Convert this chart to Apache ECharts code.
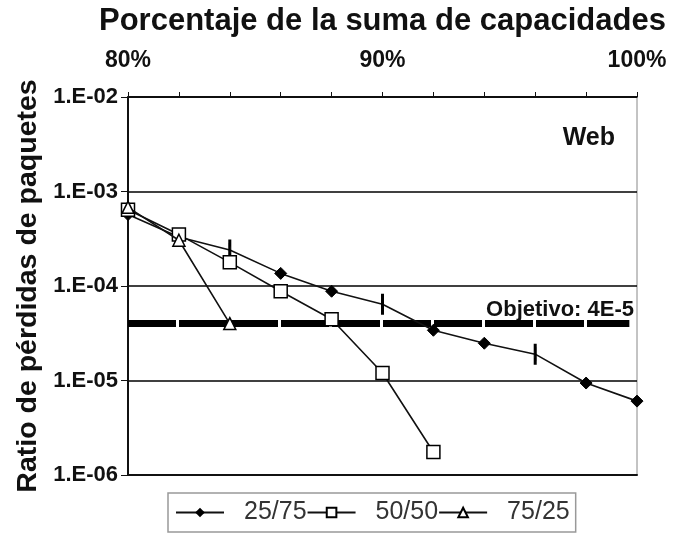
<!DOCTYPE html>
<html>
<head>
<meta charset="utf-8">
<script src="https://cdn.jsdelivr.net/npm/echarts@6/dist/echarts.min.js"></script>
<style>
  html, body { margin: 0; padding: 0; background: #fff; }
  #chart { width: 676px; height: 534px; }
</style>
</head>
<body>
<div id="chart"></div>
<script>
// Porcentaje de la suma de capacidades (x) vs. ratio de pérdidas (y, log)
const capacidad = [80, 82, 84, 86, 88, 90, 92, 94, 96, 98, 100];
const perdidas2575 = [5.7e-4, 3.3e-4, 2.4e-4, 1.36e-4, 8.8e-5, 6.4e-5, 3.4e-5, 2.48e-5, 1.9e-5, 9.4e-6, 6.05e-6];
const capacidad5050 = [80, 82, 84, 86, 88, 90, 92];
const perdidas5050 = [6.4e-4, 3.5e-4, 1.78e-4, 8.8e-5, 4.45e-5, 1.2e-5, 1.75e-6];
const capacidad7525 = [80, 82, 84];
const perdidas7525 = [6.8e-4, 3.05e-4, 4.0e-5];
const objetivoX = [80, 99.7];
const objetivoY = 4e-5;
const etiquetasX = { 80: '80%', 90: '90%', 100: '100%' };
const seriesNames = ['25/75', '50/50', '75/25'];

const pairs = (xs, ys) => xs.map((x, i) => [x, ys[i]]);
const FONT = 'Liberation Sans, Arial, sans-serif';

const chart = echarts.init(document.getElementById('chart'), null, { renderer: 'canvas' });

// points of the 25/75 curve drawn as a short vertical stroke instead of a diamond
const stroke = new Set([2, 5, 8]);
const datos2575 = pairs(capacidad, perdidas2575).map((p, i) =>
  stroke.has(i) ? { value: p, symbol: 'rect', symbolSize: [2, 14] } : { value: p });

chart.setOption({
  animation: false,
  backgroundColor: '#fff',
  title: {
    text: 'Porcentaje de la suma de capacidades',
    left: 94, top: 1,
    textStyle: { fontFamily: FONT, fontSize: 31, fontWeight: 'bold', color: '#111' }
  },
  grid: { left: 128, right: 39, top: 97, bottom: 59, show: true, borderColor: '#888', borderWidth: 1 },
  xAxis: [{
    type: 'value', position: 'top', min: 80, max: 100, interval: 2,
    axisLine: { lineStyle: { color: '#111', width: 1.5 } },
    axisTick: { show: true, inside: false, length: 5, lineStyle: { color: '#111' } },
    axisLabel: {
      margin: 25, fontFamily: FONT, fontSize: 23, fontWeight: 'bold', color: '#111',
      formatter: v => etiquetasX[v] || ''
    },
    splitLine: { show: false }
  }, {
    type: 'value', position: 'bottom', min: 80, max: 100,
    axisLine: { lineStyle: { color: '#111', width: 2 } },
    axisTick: { show: false }, axisLabel: { show: false }, splitLine: { show: false }
  }],
  yAxis: {
    type: 'log', logBase: 10, min: 1e-6, max: 1e-2,
    name: 'Ratio de pérdidas de paquetes', nameLocation: 'middle', nameRotate: 90, nameGap: 84,
    nameTextStyle: { fontFamily: FONT, fontSize: 28.5, fontWeight: 'bold', color: '#111' },
    axisLine: { show: true, lineStyle: { color: '#111', width: 2 } },
    axisTick: { show: true, length: 7, lineStyle: { color: '#111' } },
    axisLabel: {
      margin: 10, fontFamily: FONT, fontSize: 22, fontWeight: 'bold', color: '#111',
      formatter: v => {
        const e = Math.round(-Math.log10(v));
        return '1.E-' + (e < 10 ? '0' : '') + e;
      }
    },
    splitLine: { show: true, lineStyle: { color: '#000', width: 1.6 } }
  },
  legend: {
    bottom: 2, left: 168,
    data: seriesNames,
    itemWidth: 48, itemHeight: 12, itemGap: 0,
    padding: [7, 6, 7, 7], borderColor: '#999', borderWidth: 1.5,
    textStyle: { fontFamily: FONT, fontSize: 25, color: '#333', padding: [0, 6, 0, 15] }
  },
  graphic: [{
    type: 'text', x: 615, y: 126,
    style: { text: 'Web', textAlign: 'right', font: 'bold 25px ' + FONT, fill: '#111' }
  }, {
    type: 'text', x: 634, y: 321,
    style: { text: 'Objetivo: 4E-5', textAlign: 'right', textVerticalAlign: 'bottom', font: 'bold 22px ' + FONT, fill: '#111' }
  }],
  series: [{
    name: 'objetivo', type: 'line', silent: true, z: 1,
    data: objetivoX.map(x => [x, objetivoY]),
    symbol: 'none',
    lineStyle: { color: '#000', width: 7, type: [48, 3] }
  }, {
    name: seriesNames[0], type: 'line', z: 3,
    data: datos2575,
    symbol: 'diamond', symbolSize: 12,
    lineStyle: { color: '#111', width: 1.6 },
    itemStyle: { color: '#000', borderColor: '#000' }
  }, {
    name: seriesNames[1], type: 'line', z: 4,
    data: pairs(capacidad5050, perdidas5050),
    symbol: 'rect', symbolSize: 13,
    lineStyle: { color: '#111', width: 1.6 },
    itemStyle: { color: '#fff', borderColor: '#000', borderWidth: 1.5 }
  }, {
    name: seriesNames[2], type: 'line', z: 5,
    data: pairs(capacidad7525, perdidas7525),
    symbol: 'triangle', symbolSize: 12,
    lineStyle: { color: '#111', width: 1.6 },
    itemStyle: { color: '#fff', borderColor: '#000', borderWidth: 1.5 }
  }]
});
</script>
</body>
</html>
